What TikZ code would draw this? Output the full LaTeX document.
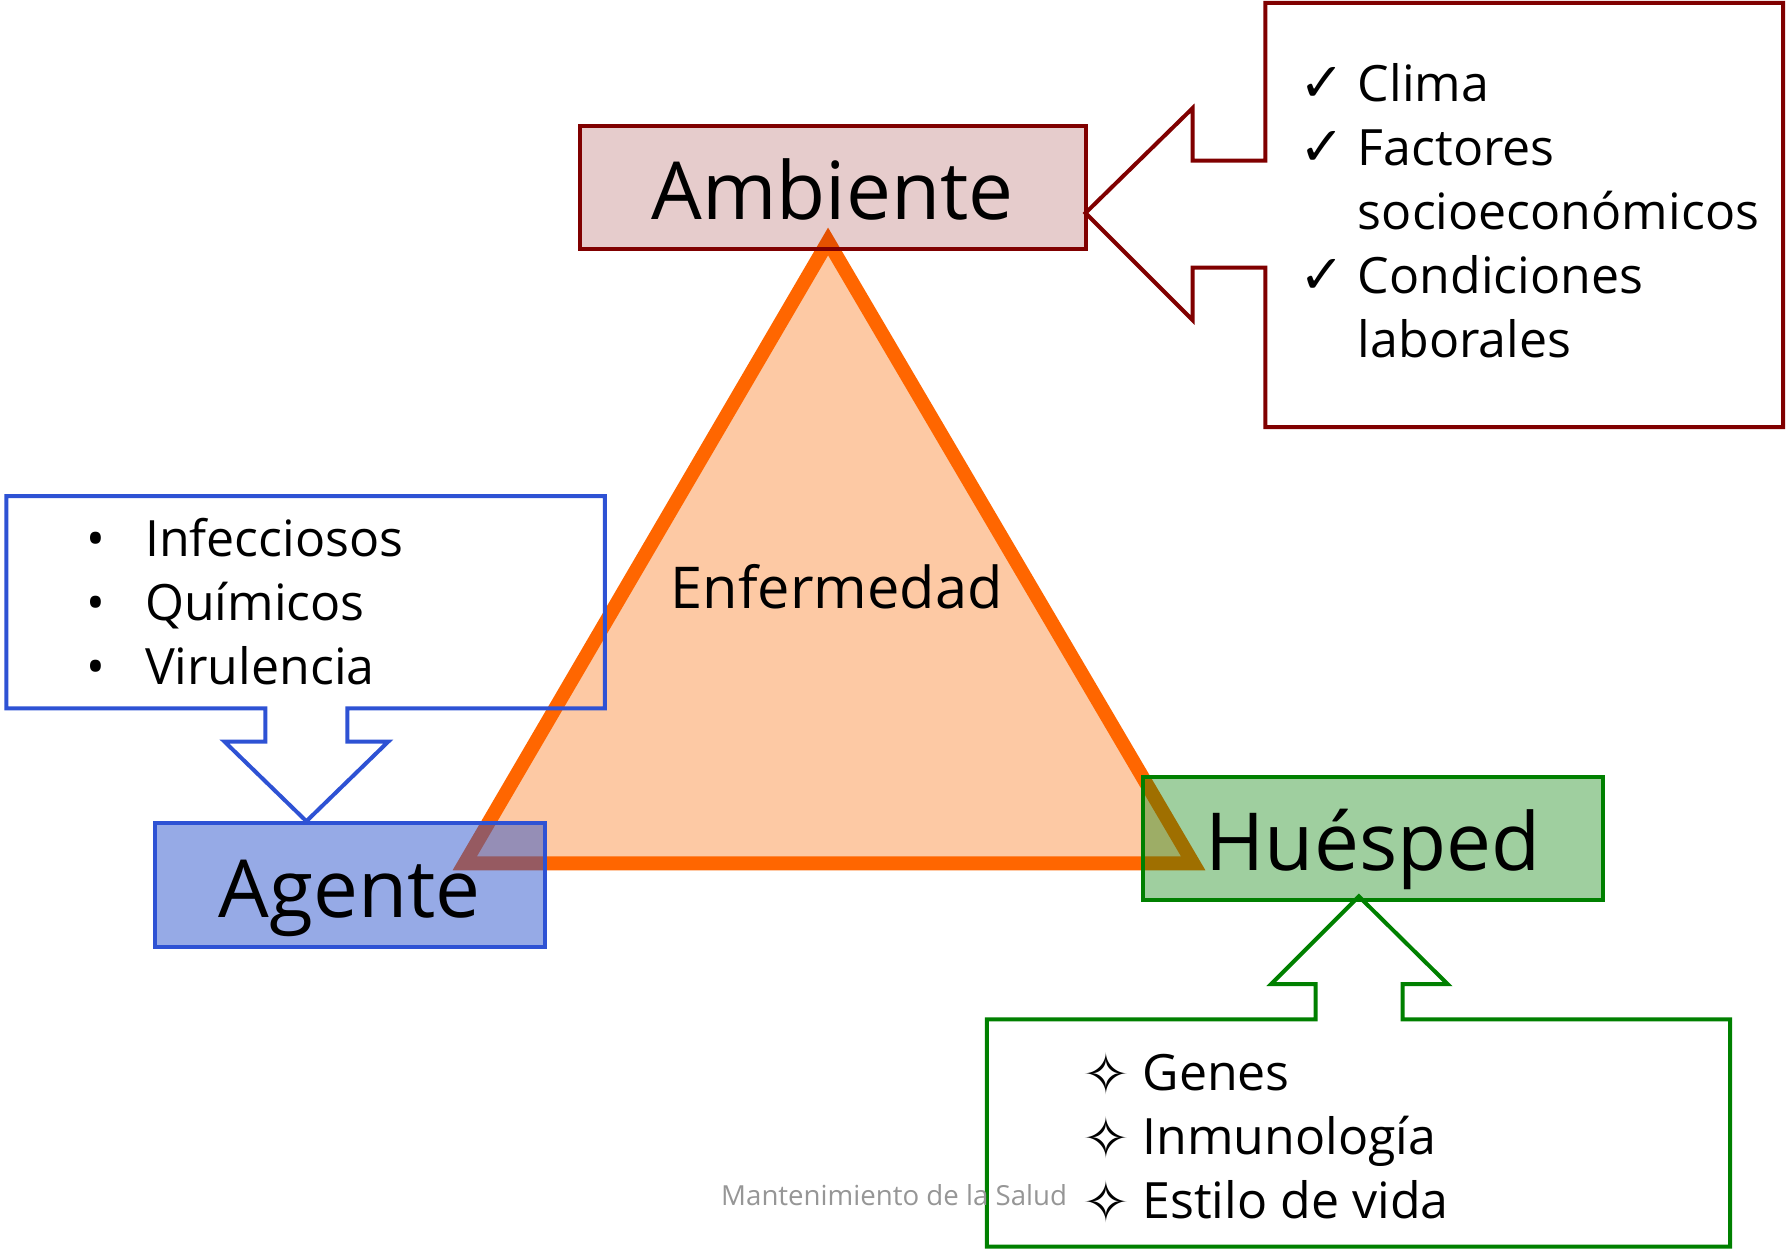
\documentclass[tikz,border=0pt]{standalone}
\usepackage{fontspec}
\setmainfont{Open Sans}
\newfontfamily\symfont{DejaVu Sans}
\usepackage{tikz}
\usetikzlibrary{positioning}

\definecolor{ambred}{RGB}{128,0,0}
\definecolor{agblue}{RGB}{46,82,212}
\definecolor{agfill}{RGB}{36,78,203}
\definecolor{hugreen}{RGB}{0,128,0}
\definecolor{triorange}{RGB}{255,102,0}
\definecolor{trifill}{RGB}{253,201,164}
\definecolor{footgray}{RGB}{150,150,150}

\newcommand{\starmark}{{\symfont\fontsize{14.2}{14.2}\selectfont ✧}}
\newcommand{\checkmk}{{\symfont\fontsize{13.5}{13.5}\selectfont ✓}}

\begin{document}
\begin{tikzpicture}[
    x=0.01cm, y=-0.01cm,
    factor/.style={draw, line width=1pt, fill opacity=0.2, text opacity=1,
        font=\fontsize{20}{24}\selectfont, text height=16pt, text depth=0pt},
    callout/.style={line width=1pt, line join=miter},
    item/.style={anchor=base west, inner sep=0pt, font=\fontsize{12.5}{15.9}\selectfont}
]
    \useasboundingbox (0,0) rectangle (1568,1097);

    % Triangle
    \draw[line width=3.5pt, draw=triorange, fill=trifill] (727,212) -- (408,758) -- (1047.6,758) -- cycle;
    \node[anchor=base, font=\fontsize{14.4}{17}\selectfont] (enf) at (734.5,534) {Enfermedad};

    % Factors
    \node[factor, draw=ambred, fill=ambred, minimum width=4.44cm, minimum height=1.08cm] (amb) at (731,165) {Ambiente};
    \node[factor, draw=agblue, fill=agfill, fill opacity=0.48, minimum width=3.42cm, minimum height=1.08cm] (age) at (307,777) {Agente};
    \node[factor, draw=hugreen, fill=hugreen, fill opacity=0.375, minimum width=4.03cm, minimum height=1.08cm] (hue) at (1205.5,736) {Huésped};

    % Callouts
    \draw[callout, ambred] (1111,141) -- (1047,141) -- (1047,95) -- (953,187) -- (1047,281) -- (1047,235)
        -- (1111,235) -- (1111,375) -- (1565.5,375) -- (1565.5,2.5) -- (1111,2.5) -- cycle;
    \draw[callout, agblue] (233,622) -- (233,651) -- (197,651) -- (269,721) -- (341,651) -- (305,651)
        -- (305,622) -- (531,622) -- (531,435.5) -- (5.5,435.5) -- (5.5,622) -- cycle;
    \draw[callout, hugreen] (1155,895) -- (1155,864) -- (1116,864) -- (1193,787) -- (1271,864) -- (1231.5,864)
        -- (1231.5,895) -- (1519,895) -- (1519,1094.5) -- (866.5,1094.5) -- (866.5,895) -- cycle;

    % Lists
    \node[item] (clima) at (1140.5,89.3) {\makebox[14.5pt][l]{\checkmk}Clima};
    \node[item] (fact) at (1140.5,145.5) {\makebox[14.5pt][l]{\checkmk}Factores};
    \node[item] (socio) at (1140.5,201.6) {\makebox[14.5pt][l]{}socioeconómicos};
    \node[item] (cond) at (1140.5,257.7) {\makebox[14.5pt][l]{\checkmk}Condiciones};
    \node[item] (labo) at (1140.5,313.8) {\makebox[14.5pt][l]{}laborales};

    \node[item] (infec) at (75,489) {\makebox[14.7pt][l]{•}Infecciosos};
    \node[item] (quim) at (75,544.8) {\makebox[14.7pt][l]{•}Químicos};
    \node[item] (viru) at (75,600.6) {\makebox[14.7pt][l]{•}Virulencia};

    \node[item] (genes) at (950,957) {\makebox[14.9pt][l]{\raisebox{-1pt}{\starmark}}Genes};
    \node[item] (inmu) at (950,1013.3) {\makebox[14.9pt][l]{\raisebox{-1pt}{\starmark}}Inmunología};
    \node[item] (estilo) at (950,1069.6) {\makebox[14.9pt][l]{\raisebox{-1pt}{\starmark}}Estilo de vida};

    % Footer
    \node[anchor=base, inner sep=0pt, text=footgray, font=\fontsize{6.9}{8}\selectfont] (foot) at (785,1058) {Mantenimiento de la Salud};
\end{tikzpicture}
\end{document}
